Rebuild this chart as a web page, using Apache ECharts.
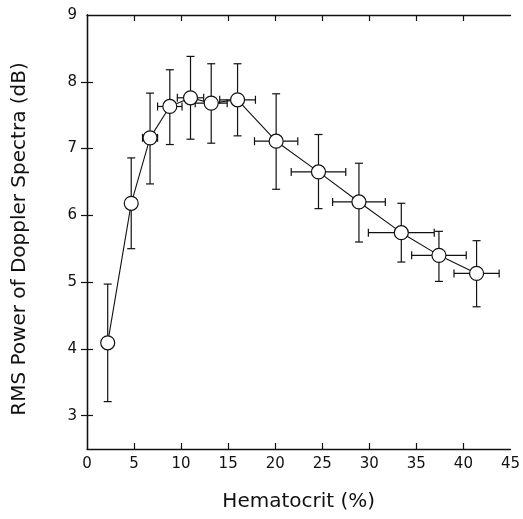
<!DOCTYPE html>
<html>
<head>
<meta charset="utf-8">
<script src="https://cdn.jsdelivr.net/npm/echarts@6/dist/echarts.min.js"></script>
<style>
  html, body { margin: 0; padding: 0; background: #fff; }
  #chart { width: 523px; height: 519px; }
</style>
</head>
<body>
<div id="chart"></div>
<script>
// Hematocrit (%) and mean RMS power (dB)
const hematocrit = [2.2, 4.7, 6.7, 8.8, 11.0, 13.2, 16.0, 20.1, 24.6, 28.9, 33.4, 37.4, 41.4];
const rmsPower   = [4.09, 6.18, 7.16, 7.63, 7.76, 7.68, 7.73, 7.11, 6.65, 6.20, 5.74, 5.40, 5.13];
// vertical error bars (upper / lower ends, dB)
const powerHigh  = [4.97, 6.86, 7.83, 8.18, 8.38, 8.27, 8.27, 7.82, 7.21, 6.78, 6.18, 5.76, 5.62];
const powerLow   = [3.21, 5.50, 6.47, 7.06, 7.14, 7.08, 7.19, 6.39, 6.10, 5.60, 5.30, 5.01, 4.63];
// horizontal error bars (half width, %)
const hctErr     = [0.0, 0.6, 0.8, 1.3, 1.4, 1.7, 1.9, 2.3, 2.9, 2.8, 3.5, 2.9, 2.4];

const xTicks = [0, 5, 10, 15, 20, 25, 30, 35, 40, 45];
const yTicks = [3, 4, 5, 6, 7, 8, 9];

const FONT = 'DejaVu Sans';
const chart = echarts.init(document.getElementById('chart'));

const points = hematocrit.map((x, i) => [x, rmsPower[i]]);
const bars = hematocrit.map((x, i) => [x, rmsPower[i], powerLow[i], powerHigh[i], hctErr[i]]);

function renderError(params, api) {
  const x = api.value(0), y = api.value(1);
  const lo = api.coord([x, api.value(2)]);
  const hi = api.coord([x, api.value(3)]);
  const e = api.value(4);
  const c = api.coord([x, y]);
  const cap = 4;
  const children = [
    { type: 'line', shape: { x1: lo[0], y1: lo[1], x2: hi[0], y2: hi[1] } },
    { type: 'line', shape: { x1: lo[0] - cap, y1: lo[1], x2: lo[0] + cap, y2: lo[1] } },
    { type: 'line', shape: { x1: hi[0] - cap, y1: hi[1], x2: hi[0] + cap, y2: hi[1] } }
  ];
  if (e > 0) {
    const l = api.coord([x - e, y]);
    const r = api.coord([x + e, y]);
    children.push(
      { type: 'line', shape: { x1: l[0], y1: c[1], x2: r[0], y2: c[1] } },
      { type: 'line', shape: { x1: l[0], y1: c[1] - cap, x2: l[0], y2: c[1] + cap } },
      { type: 'line', shape: { x1: r[0], y1: c[1] - cap, x2: r[0], y2: c[1] + cap } }
    );
  }
  children.forEach(ch => { ch.style = { stroke: '#111', lineWidth: 1.2 }; });
  return { type: 'group', children };
}

const axisLineStyle = { lineStyle: { color: '#111', width: 1.3 } };
const tickStyle = { inside: true, length: 6, lineStyle: { color: '#111', width: 1.2 } };

chart.setOption({
  animation: false,
  backgroundColor: '#fff',
  grid: { left: 87, right: 8, top: 15, bottom: 70 },
  xAxis: [
    {
      type: 'value', min: 0, max: 45, interval: 5,
      position: 'bottom',
      name: 'Hematocrit (%)', nameLocation: 'middle', nameGap: 43,
      nameTextStyle: { fontFamily: FONT, fontSize: 20, color: '#111' },
      axisLine: axisLineStyle,
      axisTick: Object.assign({ customValues: xTicks.slice(1, -1) }, tickStyle),
      axisLabel: { customValues: xTicks, fontFamily: FONT, fontSize: 15, color: '#111', margin: 8 },
      splitLine: { show: false }
    },
    {
      type: 'value', min: 0, max: 45, interval: 5,
      position: 'top',
      axisLine: axisLineStyle,
      axisTick: Object.assign({ customValues: xTicks.slice(1, -1) }, tickStyle),
      axisLabel: { show: false },
      splitLine: { show: false }
    }
  ],
  yAxis: [
    {
      type: 'value', min: 2.5, max: 9,
      position: 'left',
      name: 'RMS Power of Doppler Spectra (dB)', nameLocation: 'middle', nameGap: 57,
      nameTextStyle: { fontFamily: FONT, fontSize: 20, color: '#111', padding: [0, 14, 0, 0] },
      axisLine: axisLineStyle,
      axisTick: Object.assign({ customValues: yTicks.slice(0, -1) }, tickStyle),
      axisLabel: { customValues: yTicks, fontFamily: FONT, fontSize: 15, color: '#111', margin: 10 },
      splitLine: { show: false }
    },
    {
      type: 'value', min: 2.5, max: 9,
      position: 'right',
      axisLine: axisLineStyle,
      axisTick: Object.assign({ customValues: yTicks.slice(0, -1) }, tickStyle),
      axisLabel: { show: false },
      splitLine: { show: false }
    }
  ],
  series: [
    {
      type: 'line',
      data: points,
      symbol: 'none',
      lineStyle: { color: '#111', width: 1.1 },
      z: 1
    },
    {
      type: 'custom',
      data: bars,
      renderItem: renderError,
      encode: { x: 0, y: 1 },
      z: 2
    },
    {
      type: 'scatter',
      data: points,
      symbol: 'circle',
      symbolSize: 14,
      itemStyle: { color: '#fff', opacity: 1, borderColor: '#111', borderWidth: 1.2 },
      z: 3
    }
  ]
});
</script>
</body>
</html>
